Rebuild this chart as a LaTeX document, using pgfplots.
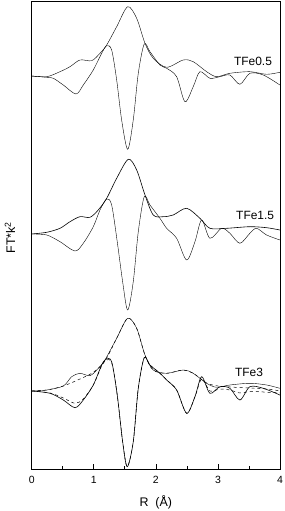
\documentclass[border=0pt]{standalone}
\usepackage{pgfplots}
\pgfplotsset{compat=1.18}
\usepackage{fontspec}
\setmainfont{Liberation Sans}
\begin{document}
\begin{tikzpicture}
\begin{axis}[
  scale only axis,
  width=248.3bp, height=467.6bp,
  xmin=0, xmax=4, ymin=-0.3, ymax=467.3,
  xtick={0,1,2,3,4},
  minor xtick={0.5,1.5,2.5,3.5},
  ytick=\empty,
  tick align=inside,
  major tick length=5bp, minor tick length=3bp,
  xtick pos=bottom,
  tick style={line width=0.7pt, black},
  /pgf/number format/assume math mode=true,
  ticklabel style={font=\fontsize{10.5}{12}\selectfont},
  xticklabel style={anchor=base, yshift=-14.6bp},
  xlabel={R\ \ (Å)},
  ylabel={FT*k$^{\mathrm{2}}$},
  every axis x label/.style={at={(axis description cs:0.5,0)}, anchor=base, yshift=-37.4bp, font=\fontsize{12.5}{14}\selectfont},
  every axis y label/.style={at={(axis description cs:0,0.4957)}, anchor=center, rotate=90, yshift=21.7bp, font=\fontsize{12.5}{14}\selectfont},
  axis line style={line width=0.8pt},
  cycle list={{black, no markers, line width=0.6pt}},
]
% Panel 1: magnitude
\addplot+[smooth, tension=0.5] coordinates {(0,393) (0.242,392.3) (0.456,397.3) (0.617,402.3) (0.778,409) (0.966,408.3) (1.100,415.7) (1.208,424) (1.369,442.3) (1.546,462.3) (1.691,450.7) (1.825,425.7) (1.958,410.7) (2.174,401.7) (2.441,409) (2.602,407.3) (2.818,397.3) (2.979,392.3) (3.193,395.7) (3.515,397.3) (3.784,394.7) (3.998,396.7)};
% Panel 1: imag
\addplot+[smooth, tension=0.5] coordinates {(0,393) (0.242,391.7) (0.348,390.7) (0.509,384) (0.713,375) (0.831,384) (0.992,399) (1.127,415.7) (1.208,423.3) (1.288,419) (1.369,389) (1.449,349) (1.546,319.7) (1.636,349) (1.717,395.7) (1.813,425) (1.905,417.3) (2.066,404) (2.174,400.7) (2.335,392.3) (2.469,367.3) (2.602,382.3) (2.710,397.3) (2.871,390.7) (3.032,392.3) (3.193,394) (3.354,384.7) (3.515,395.7) (3.730,394) (3.998,384)};
% Panel 2: magnitude
\addplot+[smooth, tension=0.5] coordinates {(0,235) (0.242,236.7) (0.456,240.7) (0.617,247.3) (0.778,252.3) (0.939,251.7) (1.072,259) (1.208,270.7) (1.369,290.7) (1.556,309.7) (1.691,299) (1.825,274) (1.958,254) (2.119,252.3) (2.280,254) (2.496,260.7) (2.710,250.7) (2.871,240.7) (3.140,240.7) (3.515,242.3) (3.784,241.3) (3.998,239)};
% Panel 2: imag
\addplot+[smooth, tension=0.5] coordinates {(0,235) (0.242,234) (0.456,227.3) (0.697,218) (0.831,225.7) (0.992,242.3) (1.100,259) (1.208,270) (1.288,264) (1.378,227.3) (1.465,187.3) (1.546,159) (1.636,187.3) (1.717,237.3) (1.813,272.3) (1.905,264) (2.066,250.7) (2.174,240.7) (2.335,230.7) (2.496,209) (2.630,227.3) (2.738,249) (2.871,230.7) (3.060,240.7) (3.193,235.7) (3.354,225.7) (3.515,235.7) (3.623,240.7) (3.784,234) (3.998,229)};
% Panel 3: magnitude
\addplot+[smooth, tension=0.5] coordinates {(0,78) (0.242,79) (0.509,83) (0.644,92.3) (0.778,95.7) (0.939,93.3) (1.072,100.7) (1.180,109) (1.369,130.7) (1.546,150.7) (1.691,140.7) (1.825,114) (1.958,99) (2.174,95.7) (2.441,99) (2.602,95.7) (2.818,85.7) (2.979,81.7) (3.193,84) (3.515,85.7) (3.784,84) (3.998,80.7)};
% Panel 3: imag
\addplot+[smooth, tension=0.5] coordinates {(0,78) (0.295,75.7) (0.509,69) (0.697,61.3) (0.831,69) (0.992,84) (1.127,104) (1.196,109.7) (1.288,107.3) (1.378,74) (1.465,27.3) (1.539,2.3) (1.636,27.3) (1.717,80.7) (1.813,111.3) (1.905,104) (2.066,95.7) (2.174,89) (2.335,79) (2.496,55.7) (2.630,72.3) (2.738,92.3) (2.871,75.7) (3.032,82.3) (3.193,80.7) (3.354,69) (3.515,82.3) (3.730,80.7) (3.998,74)};
% Panel 3: fit magnitude (dashed)
\addplot+[smooth, tension=0.5, dashed, line width=0.5pt] coordinates {(0,78) (0.242,79) (0.509,83) (0.778,90) (1.000,97) (1.180,108) (1.369,130.7) (1.546,150.7) (1.691,140.7) (1.825,114) (1.958,99) (2.174,95.7) (2.441,99) (2.602,95.7) (2.818,86) (3.000,83) (3.200,82) (3.500,81) (3.800,80) (3.998,78)};
% Panel 3: fit imag (dashed)
\addplot+[smooth, tension=0.5, dashed, line width=0.5pt] coordinates {(0,78) (0.295,76) (0.509,71) (0.697,65.7) (0.831,70) (0.992,84) (1.127,103) (1.196,108.7) (1.288,106.3) (1.378,74) (1.465,27.3) (1.539,2.3) (1.636,27.3) (1.717,80.7) (1.813,111.3) (1.905,104) (2.066,95.7) (2.174,89) (2.335,79) (2.496,55.7) (2.630,72.3) (2.738,90) (2.871,78) (3.032,80) (3.193,79) (3.354,76) (3.515,77.5) (3.730,77) (3.998,76)};
\node[font=\fontsize{12}{14}\selectfont] at (axis cs:3.565,408) {TFe0.5};
\node[font=\fontsize{12}{14}\selectfont] at (axis cs:3.6,254) {TFe1.5};
\node[font=\fontsize{12}{14}\selectfont] at (axis cs:3.5,96.7) {TFe3};
\end{axis}
\pgfresetboundingbox
\path (current axis.south west) ++(-31.7bp,-41.7bp) coordinate (bl);
\path (current axis.north east) ++(5bp,1.7bp) coordinate (tr);
\useasboundingbox (bl) rectangle (tr);
\end{tikzpicture}
\end{document}
